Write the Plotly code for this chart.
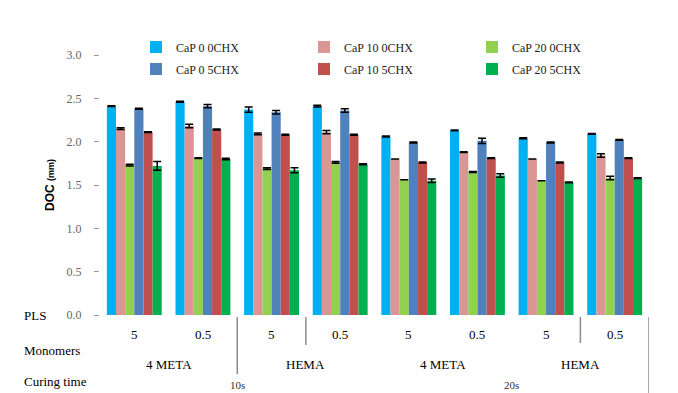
import plotly.graph_objects as go

# Groups along the x axis (PLS level within monomer within curing time)
pls = ["5", "0.5", "5", "0.5", "5", "0.5", "5", "0.5"]
monomers = ["4 META", "HEMA", "4 META", "HEMA"]
curing = ["10s", "20s"]

series_names = ["CaP 0 0CHX", "CaP 10 0CHX", "CaP 20 0CHX",
                "CaP 0 5CHX", "CaP 10 5CHX", "CaP 20 5CHX"]
series_colors = ["#00B0F0", "#DA9694", "#92D050", "#4F81BD", "#C0504D", "#00B050"]

# Depth of cure (mm) for each series, one value per group
cap0_0chx = [2.41, 2.46, 2.37, 2.41, 2.06, 2.13, 2.04, 2.09]
cap10_0chx = [2.15, 2.18, 2.09, 2.11, 1.80, 1.88, 1.80, 1.84]
cap20_0chx = [1.73, 1.81, 1.69, 1.76, 1.56, 1.65, 1.55, 1.58]
cap0_5chx = [2.38, 2.41, 2.34, 2.36, 1.99, 2.01, 1.99, 2.02]
cap10_5chx = [2.11, 2.14, 2.08, 2.08, 1.76, 1.81, 1.76, 1.81]
cap20_5chx = [1.72, 1.80, 1.67, 1.74, 1.55, 1.61, 1.53, 1.58]

# Standard deviations
sd_cap0_0chx = [0.005, 0.005, 0.03, 0.01, 0.005, 0.005, 0.005, 0.005]
sd_cap10_0chx = [0.01, 0.02, 0.01, 0.02, 0.0, 0.005, 0.0, 0.02]
sd_cap20_0chx = [0.01, 0.005, 0.01, 0.01, 0.0, 0.005, 0.0, 0.02]
sd_cap0_5chx = [0.005, 0.02, 0.02, 0.02, 0.005, 0.03, 0.005, 0.005]
sd_cap10_5chx = [0.005, 0.005, 0.005, 0.005, 0.005, 0.005, 0.005, 0.005]
sd_cap20_5chx = [0.05, 0.01, 0.03, 0.005, 0.02, 0.02, 0.005, 0.005]

values = [cap0_0chx, cap10_0chx, cap20_0chx, cap0_5chx, cap10_5chx, cap20_5chx]
errors = [sd_cap0_0chx, sd_cap10_0chx, sd_cap20_0chx,
          sd_cap0_5chx, sd_cap10_5chx, sd_cap20_5chx]

y_ticks = [0.0, 0.5, 1.0, 1.5, 2.0, 2.5, 3.0]

W, H = 678, 393
L, R, T, B = 100, 29, 55, 78
plot_h = H - T - B

SERIF = "Liberation Serif, Times New Roman, serif"

def py(pixel_y):
    """Convert a page y position to paper coordinates."""
    return (H - B - pixel_y) / plot_h

def px(pixel_x):
    return (pixel_x - L) / (W - L - R)

xs = list(range(len(pls)))

fig = go.Figure()
for i, (name, color, vals, errs) in enumerate(zip(series_names, series_colors, values, errors)):
    fig.add_trace(go.Bar(
        x=xs, y=vals, name=name,
        marker=dict(color=color, line=dict(width=0)),
        error_y=dict(type="data", array=errs, visible=True,
                     color="black", thickness=1.5, width=4),
        legend="legend" if i < 3 else "legend2",
    ))

legend_common = dict(
    orientation="h", xanchor="left", yanchor="middle",
    entrywidth=123, entrywidthmode="pixels",
    font=dict(family=SERIF, size=12, color="#222"),
    bgcolor="rgba(0,0,0,0)", borderwidth=0,
    itemclick=False, itemdoubleclick=False,
)

fig.update_layout(
    width=W, height=H,
    margin=dict(l=L, r=R, t=T, b=B),
    paper_bgcolor="white", plot_bgcolor="white",
    barmode="group", bargap=0.2, bargroupgap=0,
    showlegend=True,
    legend=dict(x=px(136), y=py(47), **legend_common),
    legend2=dict(x=px(136), y=py(69), **legend_common),
    xaxis=dict(range=[-0.5, 7.5], showticklabels=False, showgrid=False,
               zeroline=False, showline=False, ticks=""),
    yaxis=dict(range=[0, 3.0], tickvals=y_ticks,
               ticktext=[f"{v:.1f}" for v in y_ticks],
               showgrid=False, zeroline=False, showline=False,
               ticks="outside", ticklen=5, tickcolor="#999", tickwidth=1,
               ticklabelstandoff=10,
               tickfont=dict(family=SERIF, size=12, color="#666"),
               title=dict(text="<b>DOC</b> <span style='font-size:9px'><b>(mm)</b></span>",
                          font=dict(family="Liberation Sans, Arial, sans-serif", size=12,
                                    color="black"),
                          standoff=9)),
)

annotations = []
label_font = dict(family=SERIF, size=13, color="black")

# PLS row
for x, lab in zip(xs, pls):
    annotations.append(dict(x=x, y=py(334), xref="x", yref="paper", text=lab,
                            showarrow=False, font=label_font,
                            xanchor="center", yanchor="middle"))
# Monomer row (each spans two groups)
for j, lab in enumerate(monomers):
    annotations.append(dict(x=2 * j + 0.5, y=py(364), xref="x", yref="paper", text=lab,
                            showarrow=False, font=label_font,
                            xanchor="center", yanchor="middle"))
# Curing time row (each spans four groups)
for j, lab in enumerate(curing):
    annotations.append(dict(x=4 * j + 1.5, y=py(385), xref="x", yref="paper", text=lab,
                            showarrow=False, font=dict(family=SERIF, size=11, color="#333"),
                            xanchor="center", yanchor="middle"))
# Row headers
for lab, yy in [("PLS", 315), ("Monomers", 350), ("Curing time", 381)]:
    annotations.append(dict(x=px(22), y=py(yy), xref="paper", yref="paper", text=lab,
                            showarrow=False, font=label_font,
                            xanchor="left", yanchor="middle"))
fig.update_layout(annotations=annotations)

# Category divider lines below the axis
dividers = [(1.5, 374), (2.5, 345), (6.5, 343), (7.5, 393)]
for xpos, ybottom in dividers:
    fig.add_shape(type="line", xref="x", yref="paper",
                  x0=xpos, x1=xpos, y0=py(317), y1=py(ybottom),
                  line=dict(color="#8c8c8c", width=1.5))

fig.write_html("out.html")
